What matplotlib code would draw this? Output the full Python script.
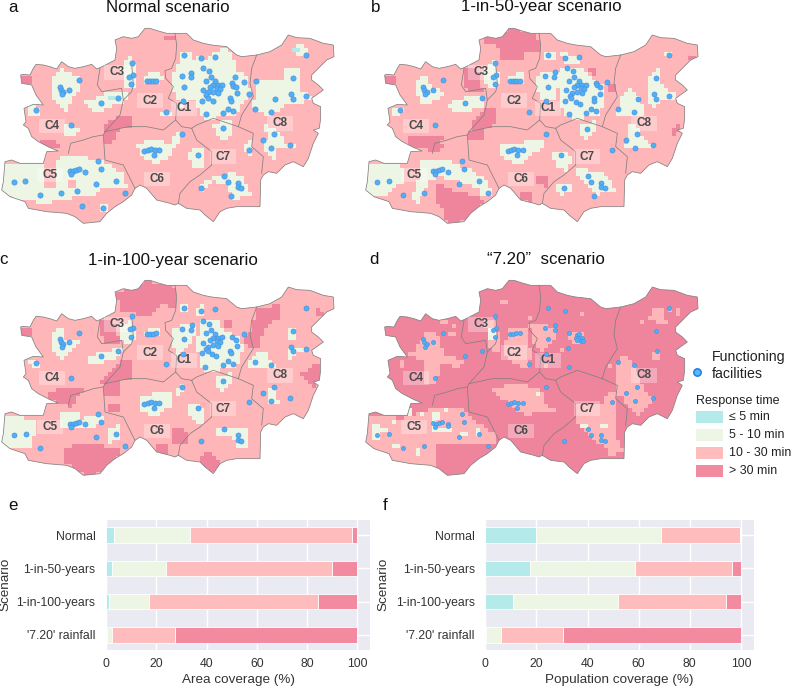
import matplotlib
matplotlib.use("Agg")
import matplotlib.pyplot as plt
import numpy as np
from matplotlib.patches import PathPatch, Rectangle
from matplotlib.path import Path

W, H = 791, 689
plt.rcParams["font.family"] = ["Liberation Sans", "DejaVu Sans"]

# bar data, percent per class
scenarios = ["Normal", "1-in-50-years", "1-in-100-years", "'7.20' rainfall"]
classes = ["≤ 5 min", "5 - 10 min", "10 - 30 min", "> 30 min"]
colors = ["#B5EAEA", "#EDF6E5", "#FFBCBC", "#F38BA0"]
map_colors = ["#B5EAEA", "#EDF6E5", "#FFB6B8", "#EF859C"]
area_5 = [3.3, 2.2, 1.2, 0.2]
area_10 = [30.3, 21.8, 15.8, 2.3]
area_30 = [64.4, 66.0, 67.5, 25.0]
area_over = [2.0, 10.0, 15.5, 72.5]
pop_5 = [19.8, 17.5, 10.8, 0.3]
pop_10 = [48.9, 41.0, 41.0, 5.8]
pop_30 = [30.8, 38.0, 42.2, 24.4]
pop_over = [0.0, 3.5, 6.0, 69.5]

# map geometry is traced at 3x, relative to the top-left of each panel
outline = [(62, 225), (68, 223), (90, 225), (100, 205), (108, 193), (130, 195), (150, 200), (170, 207), (185, 185),
           (205, 200), (225, 205), (250, 200), (275, 193), (290, 207), (300, 203), (320, 193), (345, 180), (350, 145),
           (345, 120), (370, 110), (395, 115), (415, 110), (435, 85), (450, 85), (475, 93), (500, 100), (530, 100),
           (560, 100), (580, 120), (610, 130), (635, 135), (680, 140), (710, 165), (725, 170), (770, 165), (810, 155),
           (845, 135), (865, 105), (890, 113), (930, 115), (970, 130), (1000, 135), (1002, 170), (980, 180), (955, 205),
           (935, 225), (935, 240), (955, 255), (970, 270), (935, 295), (940, 310), (962, 320), (962, 355), (958, 385),
           (940, 390), (955, 400), (940, 430), (925, 475), (910, 500), (880, 485), (855, 495), (830, 520), (805, 515),
           (790, 525), (782, 540), (780, 620), (710, 620), (680, 625), (660, 635), (640, 665), (615, 645), (600, 630),
           (560, 625), (535, 610), (525, 615), (510, 610), (470, 600), (440, 565), (420, 555), (405, 565), (395, 585),
           (370, 605), (345, 620), (320, 640), (300, 665), (250, 670), (225, 650), (200, 640), (140, 635), (85, 625),
           (75, 605), (30, 590), (5, 570), (10, 545), (15, 485), (35, 480), (60, 490), (130, 490), (140, 455), (175, 453),
           (150, 443), (115, 425), (95, 410), (85, 385), (70, 375), (78, 365), (72, 325), (100, 313), (130, 315), (108, 285),
           (95, 255), (65, 250)]
borders = [
    [(525, 100), (530, 135), (527, 175), (515, 205), (495, 212), (497, 235), (520, 260), (505, 295), (530, 310), (527, 360),
     (545, 380), (575, 385)],
    [(575, 385), (590, 375), (640, 355), (715, 380)],
    [(770, 165), (755, 205), (750, 250), (760, 290), (725, 345), (715, 380)],
    [(715, 380), (760, 400), (755, 440), (790, 470), (785, 520)],
    [(575, 385), (590, 420), (635, 455), (635, 495), (600, 525), (570, 545), (540, 580), (535, 610)],
    [(315, 395), (385, 380), (440, 380), (490, 390), (527, 360)],
    [(205, 460), (212, 430), (250, 420), (280, 410), (310, 405), (315, 395), (360, 345), (370, 300), (395, 275), (400, 255),
     (395, 190)],
    [(300, 205), (292, 255), (305, 275), (365, 265), (370, 300)],
    [(310, 405), (315, 480), (370, 495), (405, 565)],
]
district_names = ["C1", "C2", "C3", "C4", "C5", "C6", "C7", "C8"]
district_x = [553, 450, 352, 155, 150, 472, 670, 840]
district_y = [325, 302, 217, 378, 525, 537, 470, 370]

# zones per scenario: "mid" is 10-30, "low" is 5-10, "high" is >30, "fast" is <=5
a_low = [
    [(535, 155), (570, 155), (575, 190), (600, 160), (615, 185), (640, 160), (680, 140), (700, 170), (705, 205), (740, 225),
     (755, 285), (730, 310), (705, 345), (660, 350), (615, 360), (598, 340), (590, 300), (565, 300), (545, 320), (530, 300),
     (518, 265), (520, 215), (535, 195)],
    [(760, 235), (850, 240), (855, 205), (895, 200), (905, 270), (940, 290), (905, 310), (860, 310), (815, 345), (770, 340),
     (755, 320), (770, 280)],
    [(880, 130), (905, 130), (930, 165), (890, 165)],
    [(795, 370), (835, 395), (860, 430), (895, 440), (830, 450), (820, 485), (790, 440), (800, 410)],
    [(640, 370), (690, 360), (695, 400), (665, 425), (645, 400)],
    [(730, 430), (755, 425), (760, 465), (735, 460)],
    [(410, 430), (470, 420), (510, 430), (530, 395), (560, 395), (525, 440), (510, 470), (470, 495), (420, 470)],
    [(575, 445), (610, 440), (615, 510), (580, 500), (560, 470)],
    [(600, 555), (650, 525), (700, 520), (730, 530), (755, 585), (700, 600), (685, 560), (640, 545), (600, 575)],
    [(435, 230), (465, 210), (490, 235), (470, 255), (435, 255)],
    [(365, 200), (390, 170), (410, 200), (405, 260), (370, 260)],
    [(255, 305), (300, 290), (340, 270), (390, 280), (370, 305), (330, 320), (300, 340), (260, 325)],
    [(150, 240), (180, 205), (240, 230), (240, 265), (215, 290), (205, 340), (190, 330), (155, 285)],
    [(190, 370), (240, 385), (245, 400), (190, 405)],
    [(85, 320), (110, 310), (120, 340), (90, 350)],
    [(5, 485), (60, 490), (125, 495), (130, 505), (135, 560), (170, 570), (170, 475), (250, 470), (320, 490), (370, 520),
     (385, 570), (340, 560), (300, 565), (290, 590), (240, 590), (190, 600), (130, 610), (70, 600), (20, 590), (0, 570)],
    [(300, 615), (325, 610), (325, 635), (300, 635)],
    [(480, 330), (510, 330), (510, 345), (480, 345)],
]
a_mid = [[(205, 540), (230, 540), (230, 560), (205, 560)], [(230, 590), (250, 590), (250, 610), (230, 610)]]
a_high = [
    [(315, 370), (360, 350), (400, 345), (400, 375), (350, 395), (355, 420), (315, 430)],
    [(110, 420), (170, 415), (180, 445), (130, 445)],
    [(62, 225), (95, 225), (90, 255), (62, 250)],
    [(495, 110), (525, 110), (525, 125), (495, 125)],
]
a_fast = [[(880, 145), (895, 145), (895, 160), (880, 160)], [(325, 290), (350, 290), (350, 305), (325, 305)]]

b_low = [
    [(535, 155), (570, 160), (570, 185), (540, 185)],
    [(590, 160), (640, 165), (650, 195), (600, 185)],
    [(590, 205), (650, 205), (680, 235), (720, 260), (725, 310), (700, 345), (640, 360), (600, 345), (590, 300)],
    [(515, 230), (540, 215), (590, 210), (585, 260), (570, 300), (530, 305), (520, 275)],
    [(770, 290), (800, 265), (830, 290), (840, 345), (750, 345), (765, 320)],
    [(855, 230), (885, 200), (895, 260), (945, 285), (930, 305), (895, 300), (870, 325), (850, 300)],
    [(900, 150), (925, 150), (925, 170), (900, 170)],
    [(795, 370), (830, 385), (830, 410), (875, 440), (820, 450), (785, 440), (795, 410)],
    [(645, 370), (690, 365), (690, 395), (665, 425), (645, 400)],
    [(640, 500), (675, 510), (720, 520), (755, 570), (700, 585), (660, 550), (640, 530)],
    [(575, 560), (625, 545), (625, 570), (585, 590)],
    [(410, 435), (470, 430), (510, 415), (540, 420), (530, 450), (490, 470), (470, 495), (430, 480), (410, 460)],
    [(560, 460), (605, 450), (625, 480), (605, 515), (580, 500)],
    [(435, 225), (480, 220), (485, 255), (435, 255)],
    [(365, 205), (395, 180), (405, 240), (395, 265), (365, 255)],
    [(255, 310), (300, 295), (330, 290), (365, 295), (360, 320), (300, 335), (260, 330)],
    [(155, 240), (185, 225), (195, 250), (245, 280), (215, 300), (180, 320), (160, 290)],
    [(85, 325), (110, 315), (120, 335), (90, 350)],
    [(5, 485), (60, 490), (115, 500), (115, 550), (80, 565), (80, 580), (20, 590), (0, 570)],
    [(170, 475), (250, 480), (320, 510), (370, 545), (385, 585), (360, 590), (340, 565), (280, 545), (220, 530), (190, 550),
     (165, 610), (140, 600), (160, 550)],
]
b_high = [
    [(360, 115), (440, 85), (520, 100), (525, 150), (490, 150), (470, 185), (410, 180), (400, 130), (365, 135)],
    [(300, 205), (330, 200), (350, 225), (355, 270), (310, 270), (295, 240)],
    [(62, 225), (90, 225), (90, 255), (62, 250)],
    [(320, 370), (365, 320), (395, 320), (400, 375), (360, 385), (320, 395)],
    [(310, 395), (365, 385), (365, 425), (310, 425)],
    [(130, 415), (210, 405), (240, 410), (215, 440), (205, 455), (170, 445), (130, 440)],
    [(210, 440), (250, 425), (240, 445), (205, 460)],
    [(220, 550), (270, 575), (330, 585), (360, 600), (310, 660), (270, 672), (235, 655), (235, 620), (215, 600)],
    [(510, 525), (550, 525), (555, 560), (515, 555)],
    [(465, 575), (500, 570), (505, 610), (465, 600)],
    [(670, 200), (690, 205), (695, 225), (675, 220)],
    [(735, 250), (755, 260), (755, 275), (735, 270)],
    [(915, 385), (950, 370), (950, 395), (930, 405)],
    [(975, 165), (1000, 165), (995, 180), (980, 180)],
]

c_low = [
    [(545, 160), (562, 160), (562, 177), (545, 177)],
    [(590, 165), (615, 160), (615, 190), (590, 190)],
    [(605, 210), (650, 205), (680, 240), (720, 255), (730, 290), (715, 340), (670, 350), (620, 365), (600, 340), (590, 270)],
    [(515, 230), (540, 220), (585, 215), (585, 250), (560, 290), (530, 310), (520, 280)],
    [(745, 325), (795, 290), (810, 320), (835, 345), (770, 350), (745, 345)],
    [(860, 285), (890, 285), (940, 285), (890, 300), (875, 325), (860, 310)],
    [(860, 225), (885, 225), (885, 265), (860, 265)],
    [(800, 415), (830, 400), (835, 450), (800, 455)],
    [(650, 370), (695, 365), (690, 395), (665, 425), (650, 400)],
    [(650, 530), (690, 525), (745, 530), (750, 590), (715, 590), (700, 560), (650, 545)],
    [(415, 430), (510, 420), (515, 460), (470, 495), (420, 480)],
    [(560, 455), (600, 450), (615, 510), (585, 510), (560, 480)],
    [(525, 410), (550, 395), (555, 410), (530, 440)],
    [(435, 235), (480, 225), (480, 255), (435, 255)],
    [(360, 225), (400, 205), (405, 260), (385, 275), (365, 265)],
    [(260, 315), (310, 300), (370, 285), (365, 310), (310, 330), (265, 330)],
    [(155, 240), (185, 225), (195, 260), (245, 270), (215, 290), (185, 320), (155, 290)],
    [(85, 330), (110, 320), (115, 345), (95, 345)],
    [(5, 485), (110, 505), (110, 530), (95, 560), (95, 585), (20, 590), (0, 570)],
    [(175, 480), (230, 475), (240, 500), (320, 490), (305, 520), (240, 530), (180, 530)],
    [(320, 540), (360, 515), (365, 565), (330, 570)],
]
c_high = [
    [(350, 125), (440, 85), (525, 105), (530, 170), (480, 155), (450, 195), (400, 185), (365, 175)],
    [(295, 210), (335, 200), (360, 270), (310, 270)],
    [(62, 225), (100, 235), (100, 255), (62, 250)],
    [(300, 390), (320, 365), (365, 325), (400, 325), (400, 378), (340, 395)],
    [(310, 395), (365, 385), (355, 430), (310, 430)],
    [(145, 415), (250, 410), (245, 425), (210, 465), (150, 440)],
    [(105, 425), (135, 430), (135, 445), (110, 440)],
    [(190, 590), (230, 575), (340, 585), (370, 600), (310, 660), (270, 672), (230, 655), (195, 630)],
    [(510, 525), (555, 530), (565, 575), (515, 570)],
    [(465, 575), (505, 575), (505, 615), (465, 600)],
    [(325, 455), (355, 460), (355, 485), (325, 480)],
    [(595, 625), (625, 600), (665, 630), (640, 660), (610, 650)],
    [(750, 240), (770, 175), (840, 155), (845, 195), (790, 230), (780, 285), (750, 285)],
    [(670, 205), (695, 205), (695, 230), (675, 225)],
    [(725, 250), (750, 255), (750, 280), (730, 280)],
    [(905, 365), (950, 330), (965, 350), (950, 420), (920, 390)],
    [(945, 160), (965, 180), (970, 195), (950, 185)],
]

d_mid = [
    [(150, 300), (190, 240), (225, 250), (240, 305), (300, 325), (280, 350), (230, 330), (215, 400), (180, 395), (175, 330),
     (150, 315)],
    [(440, 225), (490, 230), (490, 275), (510, 300), (490, 345), (460, 340), (415, 295)],
    [(495, 215), (570, 225), (570, 265), (530, 300), (510, 280)],
    [(605, 240), (665, 240), (665, 270), (635, 275), (610, 260)],
    [(385, 410), (450, 395), (530, 410), (545, 460), (580, 475), (510, 480), (490, 495), (450, 465), (410, 435)],
    [(640, 460), (710, 460), (745, 410), (760, 440), (755, 540), (775, 595), (745, 620), (730, 600), (720, 580), (680, 560),
     (640, 510)],
    [(765, 320), (790, 310), (820, 345), (830, 395), (870, 445), (820, 490), (795, 470), (770, 430), (750, 420)],
    [(860, 175), (890, 170), (910, 215), (875, 215)],
    [(860, 295), (885, 295), (885, 320), (870, 320)],
    [(10, 490), (120, 500), (170, 480), (240, 465), (295, 470), (310, 490), (390, 545), (395, 580), (340, 580), (250, 580),
     (215, 570), (220, 620), (210, 650), (150, 640), (90, 630), (20, 590), (0, 570)],
    [(360, 205), (400, 205), (405, 300), (380, 300)],
]
d_low = [
    [(205, 485), (225, 485), (220, 525), (270, 525), (265, 537), (205, 537)],
    [(30, 510), (50, 510), (45, 570), (25, 560)],
    [(370, 230), (395, 225), (395, 265), (375, 260)],
]
# stray single cells in the flooded scenario
speck_mid_x = [270, 240, 135, 420, 500, 590, 650, 895, 945, 920, 740, 545, 265, 110, 830, 855, 700]
speck_mid_y = [225, 210, 310, 145, 200, 290, 185, 180, 180, 175, 340, 340, 245, 335, 205, 195, 510]
speck_low_x = [95, 160, 90, 60, 140, 340, 175, 250, 300, 520, 720, 660]
speck_low_y = [580, 600, 510, 530, 480, 540, 490, 470, 545, 430, 525, 520]

# facilities per scenario
a_x = [553, 604, 646, 917, 395, 398, 388, 393, 238, 180, 183, 190, 185, 208, 355, 303, 108, 213, 440, 450, 458, 468, 497, 546, 545, 573, 573, 553, 610, 628, 632, 617, 645, 640, 655, 665, 650, 660, 630, 608, 625, 640, 655, 618, 625, 605, 640, 617, 548, 690, 692, 684, 698, 668, 670, 705, 697, 700, 709, 710, 732, 746, 768, 765, 813, 824, 878, 873, 879, 918, 822, 789, 814, 869, 746, 593, 433, 445, 453, 465, 478, 461, 210, 218, 228, 238, 214, 254, 295, 302, 348, 287, 232, 183, 120, 76, 41, 374, 246, 308, 673, 683, 713, 713, 724, 693, 602]
a_y = [166, 175, 170, 165, 190, 226, 230, 252, 241, 262, 270, 275, 282, 269, 294, 310, 331, 376, 243, 243, 243, 243, 335, 402, 228, 218, 232, 260, 205, 214, 232, 242, 243, 255, 255, 255, 265, 268, 262, 270, 275, 275, 280, 285, 295, 302, 303, 343, 304, 295, 302, 326, 332, 338, 385, 232, 250, 258, 262, 280, 245, 282, 243, 327, 336, 296, 235, 283, 296, 288, 402, 421, 444, 436, 449, 464, 453, 450, 448, 450, 450, 464, 512, 512, 510, 508, 522, 515, 482, 506, 542, 552, 574, 580, 584, 542, 547, 580, 617, 623, 528, 545, 548, 562, 565, 588, 565]
b_x = [552, 603, 644, 915, 393, 397, 386, 392, 236, 178, 181, 188, 183, 206, 354, 302, 107, 212, 438, 446, 454, 460, 467, 495, 545, 544, 574, 571, 552, 608, 626, 630, 616, 645, 638, 653, 665, 650, 660, 630, 607, 625, 640, 655, 617, 622, 604, 636, 647, 614, 547, 689, 690, 682, 696, 666, 668, 695, 700, 708, 708, 730, 763, 811, 823, 876, 871, 877, 916, 820, 787, 812, 867, 744, 591, 431, 440, 450, 462, 476, 460, 208, 216, 226, 234, 212, 252, 293, 300, 346, 285, 181, 118, 74, 39, 372, 671, 681, 711, 711, 722, 691, 600]
b_y = [166, 174, 170, 165, 190, 226, 231, 252, 241, 262, 270, 276, 282, 269, 294, 310, 331, 376, 243, 243, 243, 243, 243, 335, 402, 228, 217, 231, 260, 204, 213, 232, 242, 243, 255, 255, 255, 265, 268, 262, 270, 280, 277, 280, 287, 295, 302, 305, 312, 343, 304, 295, 302, 326, 332, 338, 386, 250, 255, 262, 281, 245, 327, 336, 296, 235, 283, 296, 288, 402, 421, 444, 436, 449, 464, 453, 451, 447, 450, 450, 464, 512, 512, 510, 508, 521, 515, 482, 506, 542, 552, 580, 584, 542, 547, 580, 528, 545, 548, 562, 565, 588, 565]
c_x = [553, 604, 646, 917, 395, 398, 390, 393, 238, 180, 183, 190, 185, 208, 355, 303, 108, 213, 440, 450, 458, 468, 497, 546, 545, 575, 573, 553, 610, 628, 632, 617, 645, 640, 655, 665, 650, 660, 630, 608, 625, 640, 655, 618, 625, 605, 636, 647, 616, 548, 690, 692, 684, 698, 668, 670, 697, 709, 710, 732, 765, 813, 878, 873, 879, 918, 822, 789, 814, 869, 746, 593, 433, 445, 453, 465, 478, 461, 210, 218, 228, 238, 214, 254, 295, 302, 348, 287, 120, 77, 41, 374, 673, 713, 713, 724, 602]
c_y = [168, 177, 172, 167, 192, 228, 232, 254, 243, 262, 270, 277, 284, 271, 296, 312, 333, 378, 245, 245, 245, 244, 337, 404, 230, 219, 234, 262, 207, 215, 233, 244, 245, 257, 257, 256, 267, 270, 264, 272, 285, 280, 282, 290, 297, 304, 306, 313, 345, 306, 297, 304, 328, 335, 340, 388, 255, 264, 282, 247, 330, 338, 237, 285, 298, 290, 404, 424, 446, 438, 451, 467, 456, 453, 450, 452, 452, 467, 515, 515, 513, 511, 524, 517, 485, 509, 545, 554, 587, 545, 550, 583, 531, 550, 564, 567, 567]
d_x = [552, 603, 915, 393, 397, 386, 392, 236, 178, 181, 188, 183, 207, 354, 302, 212, 438, 446, 456, 467, 495, 545, 544, 574, 572, 552, 616, 612, 614, 547, 640, 646, 635, 645, 655, 640, 650, 657, 763, 811, 876, 878, 820, 787, 812, 867, 744, 431, 440, 450, 462, 476, 460, 208, 216, 226, 234, 212, 252, 253, 293, 300, 346, 285, 181, 118, 74, 39, 372, 671, 681, 711, 711, 722, 600]
d_y = [168, 177, 167, 192, 228, 233, 254, 243, 262, 270, 276, 284, 271, 296, 312, 378, 245, 245, 244, 244, 337, 404, 229, 219, 233, 262, 244, 289, 345, 306, 250, 245, 257, 257, 257, 265, 268, 266, 330, 338, 237, 298, 404, 424, 446, 438, 451, 456, 454, 449, 452, 452, 467, 514, 516, 513, 511, 524, 516, 521, 485, 509, 545, 554, 582, 587, 545, 550, 583, 531, 548, 550, 564, 567, 567]

titles = ["Normal scenario", "1-in-50-year scenario", "1-in-100-year scenario", "“7.20”  scenario"]
letters = ["a", "b", "c", "d"]
title_x = [168, 541, 173, 546]
title_y = [7, 7, 260, 260]
letter_x = [13, 376, 4, 374]
letter_y = [7, 7, 260, 260]
panel_dx = [0, 364, 0, 364]
panel_dy = [0, 0, 252, 252]


def rgb(hex_color):
    return matplotlib.colors.to_rgb(hex_color)


def specks(xs, ys):
    return [[(x - 7, y - 7), (x + 7, y - 7), (x + 7, y + 7), (x - 7, y + 7)] for x, y in zip(xs, ys)]


def zone_image(base, layers):
    # coarse grid so the zones come out blocky like the original raster
    cell = 12
    xs = np.arange(0, 1008, cell)
    ys = np.arange(84, 684, cell)
    gx, gy = np.meshgrid(xs + cell / 2, ys + cell / 2)
    pts = np.column_stack([gx.ravel(), gy.ravel()])
    img = np.zeros((len(ys), len(xs), 3))
    img[:] = rgb(base)
    for color, polys in layers:
        for poly in polys:
            inside = Path(poly + [poly[0]]).contains_points(pts).reshape(gx.shape)
            img[inside] = rgb(color)
    # repeat cells so bilinear only softens the block edges a little
    img = img.repeat(4, axis=0).repeat(4, axis=1)
    return img, (xs[0], xs[-1] + cell, ys[-1] + cell, ys[0])


def draw_map(ax, i, base, layers, fx, fy, marker_size):
    dx, dy = panel_dx[i], panel_dy[i]
    to_px = lambda pts: [(x / 3 + dx, y / 3 + dy) for x, y in pts]

    img, (x0, x1, y0, y1) = zone_image(base, layers)
    im = ax.imshow(img, extent=(x0 / 3 + dx, x1 / 3 + dx, y0 / 3 + dy, y1 / 3 + dy),
                   aspect="auto", interpolation="bilinear", zorder=1)
    shape = to_px(outline)
    clip = PathPatch(Path(shape + [shape[0]]), transform=ax.transData)
    im.set_clip_path(clip)

    ax.add_patch(PathPatch(Path(shape + [shape[0]]), fill=False, edgecolor="#808080", lw=0.55, zorder=2))
    for line in borders:
        pts = np.array(to_px(line))
        ax.plot(pts[:, 0], pts[:, 1], color="#808080", lw=0.55, zorder=2)

    for name, x, y in zip(district_names, district_x, district_y):
        ax.add_patch(Rectangle((x / 3 + dx - 13, y / 3 + dy - 7.3), 26, 14.6, fc="white", ec="none", alpha=0.3, zorder=3))
        ax.text(x / 3 + dx, y / 3 + dy, name, fontsize=8.5, fontweight="bold", color="#4a4a4a",
                ha="center", va="center", zorder=3)

    ax.scatter(np.array(fx) / 3 + dx, np.array(fy) / 3 + dy, s=marker_size, c="#4DB2F5",
               edgecolors="#4F8FE0", linewidths=0.5, zorder=4)

    ax.text(title_x[i], title_y[i], titles[i], fontsize=12.2, ha="center", va="center", color="#111111")
    ax.text(letter_x[i], letter_y[i], letters[i], fontsize=12.2, ha="center", va="center", color="#111111")


def draw_legend(ax):
    ax.scatter([697], [372], s=28, c="#5BB8FF", edgecolors="#1E7FE0", linewidths=1.1, zorder=4)
    ax.text(712, 357, "Functioning", fontsize=10.2, va="center", color="#222222")
    ax.text(712, 374, "facilities", fontsize=10.2, va="center", color="#222222")
    ax.text(696, 401, "Response time", fontsize=9, va="center", color="#222222")
    rows = [411, 429, 447, 465]
    for top, color, label in zip(rows, colors, classes):
        ax.add_patch(Rectangle((696, top), 27, 12, fc=color, ec="none"))
        ax.text(729, top + 6, label, fontsize=8.9, va="center", color="#222222")


def draw_bars(fig, box, parts, xlabel, letter, letter_xy, ylabel_x):
    x0, y0, x1, y1 = box
    ax = fig.add_axes([x0 / W, 1 - y1 / H, (x1 - x0) / W, (y1 - y0) / H])
    ax.set_facecolor("#EAEAF2")
    ax.grid(True, color="white", lw=1.0)
    ax.set_axisbelow(True)
    for spine in ax.spines.values():
        spine.set_visible(False)

    pos = np.arange(len(scenarios))
    left = np.zeros(len(scenarios))
    for values, color in zip(parts, colors):
        ax.barh(pos, values, left=left, height=0.47, color=color, edgecolor="white", lw=0.6)
        left += np.array(values)

    ax.set_yticks(pos)
    ax.set_yticklabels(scenarios, fontsize=8.8, color="#333333")
    ax.set_xticks([0, 20, 40, 60, 80, 100])
    ax.set_xticklabels(["0", "20", "40", "60", "80", "100"], fontsize=8.8, color="#333333")
    ax.tick_params(axis="y", length=0, pad=7.5)
    ax.tick_params(axis="x", length=0, pad=6)
    ax.set_xlim(0, 105)
    ax.set_ylim(3.46, -0.476)
    ax.set_xlabel(xlabel, fontsize=9.7, color="#333333", labelpad=2.5)
    ax.set_ylabel("Scenario", fontsize=9.7, color="#333333")
    ax.yaxis.set_label_coords((ylabel_x - x0) / (x1 - x0), 0.5)
    fig.text(letter_xy[0] / W, 1 - letter_xy[1] / H, letter, fontsize=12.2, ha="center", va="center", color="#111111")


def main():
    fig = plt.figure(figsize=(W / 100, H / 100), dpi=100)
    ax = fig.add_axes([0, 0, 1, 1])

    fast, low, mid, high = map_colors
    draw_map(ax, 0, mid, [(low, a_low), (mid, a_mid), (high, a_high), (fast, a_fast)], a_x, a_y, 14)
    draw_map(ax, 1, mid, [(low, b_low), (high, b_high)], b_x, b_y, 13)
    draw_map(ax, 2, mid, [(low, c_low), (high, c_high)], c_x, c_y, 13)
    draw_map(ax, 3, high, [(mid, d_mid), (mid, specks(speck_mid_x, speck_mid_y)), (low, d_low),
                           (low, specks(speck_low_x, speck_low_y))], d_x, d_y, 8.5)
    draw_legend(ax)

    ax.set_xlim(0, W)
    ax.set_ylim(H, 0)
    ax.axis("off")

    draw_bars(fig, (106, 519.5, 370, 650), [area_5, area_10, area_30, area_over], "Area coverage (%)", "e", (13, 505), 11)
    draw_bars(fig, (485.3, 519.5, 753.7, 650), [pop_5, pop_10, pop_30, pop_over], "Population coverage (%)", "f", (385, 505), 389)

    fig.savefig("out.png", dpi=100)


if __name__ == "__main__":
    main()
